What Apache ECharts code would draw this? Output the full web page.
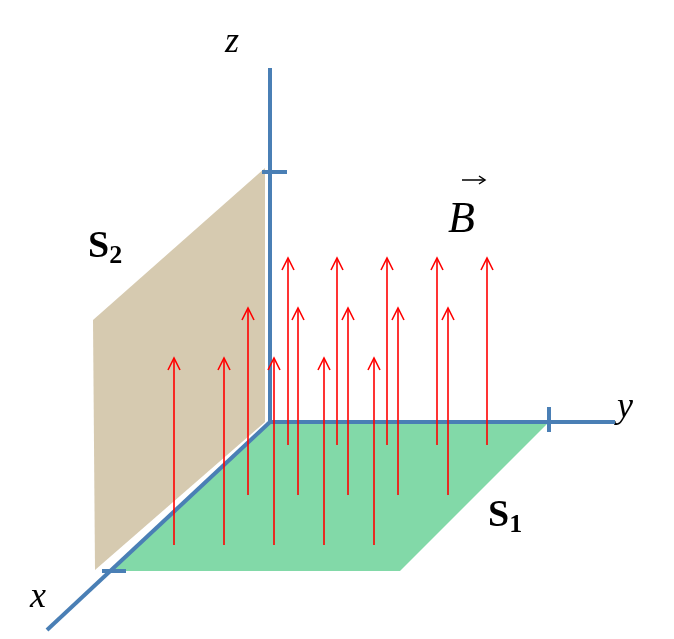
<!DOCTYPE html>
<html><head><meta charset="utf-8">
<script src="https://cdn.jsdelivr.net/npm/echarts@6/dist/echarts.min.js"></script>
<style>html,body{margin:0;background:#fff}#c{width:674px;height:639px}</style>
</head><body><div id="c"></div>
<script>
// Projected diagram coordinates (pixel-like data space)
const greenPlane = [[270,422],[549,422],[400,571],[110,571]];
const beigePlane = [[93,320],[265,168],[265,422],[95,570]];
const axisSegs = [
  [[270,68],[270,422]],   // z
  [[270,422],[615,422]],  // y
  [[270,422],[47,630]],   // x
  [[262,172],[287,172]],  // z tick
  [[549,407],[549,432]],  // y tick
  [[102,571],[126,571]]   // x tick
];
const frontX = [174,224,274,324,374];
const midX = [248,298,348,398,448];
const backX = [288,337,387,437,487];
const rows = [[frontX,545,358],[midX,495,308],[backX,445,258]];
const arrows = [];
rows.forEach(r=>r[0].forEach(x=>arrows.push([x,r[1],r[2]])));

const chart = echarts.init(document.getElementById('c'));
chart.setOption({
  animation:false,
  grid:{left:0,right:0,top:0,bottom:0},
  xAxis:{type:'value',min:0,max:674,show:false},
  yAxis:{type:'value',min:0,max:639,inverse:true,show:false},
  series:[
    {type:'custom',data:[0],z:1,renderItem:(p,api)=>({type:'polygon',shape:{points:greenPlane.map(q=>api.coord(q))},style:{fill:'#82d9a8'}})},
    {type:'custom',data:[0],z:1,renderItem:(p,api)=>({type:'polygon',shape:{points:beigePlane.map(q=>api.coord(q))},style:{fill:'#d6cab0'}})},
    {type:'custom',data:axisSegs.map((s,i)=>i),z:3,renderItem:(p,api)=>{
      const s=axisSegs[p.dataIndex];
      return {type:'line',shape:{x1:api.coord(s[0])[0],y1:api.coord(s[0])[1],x2:api.coord(s[1])[0],y2:api.coord(s[1])[1]},style:{stroke:'#4a7fb5',lineWidth:4}};
    }},
    {type:'custom',data:arrows,z:4,renderItem:(p,api)=>{
      const a=arrows[p.dataIndex];
      const b=api.coord([a[0],a[1]]), t=api.coord([a[0],a[2]]);
      return {type:'group',children:[
        {type:'line',shape:{x1:b[0],y1:b[1],x2:t[0],y2:t[1]},style:{stroke:'#ff0000',lineWidth:1.6}},
        {type:'polyline',shape:{points:[[t[0]-6,t[1]+12],[t[0],t[1]],[t[0]+6,t[1]+12]]},style:{stroke:'#ff0000',lineWidth:1.6,fill:null}}
      ]};
    }}
  ],
  graphic:[
    {type:'text',left:225,top:25,style:{text:'z',font:'italic 36px "Liberation Serif"',fill:'#000'}},
    {type:'text',left:617,top:390,style:{text:'y',font:'italic 36px "Liberation Serif"',fill:'#000'}},
    {type:'text',left:30,top:580,style:{text:'x',font:'italic 36px "Liberation Serif"',fill:'#000'}},
    {type:'text',left:88,top:228,style:{rich:{a:{font:'bold 38px "Liberation Serif"'},b:{font:'bold 26px "Liberation Serif"',padding:[18,0,0,0]}},text:'{a|S}{b|2}',fill:'#000'}},
    {type:'text',left:488,top:497,style:{rich:{a:{font:'bold 38px "Liberation Serif"'},b:{font:'bold 26px "Liberation Serif"',padding:[18,0,0,0]}},text:'{a|S}{b|1}',fill:'#000'}},
    {type:'text',left:448,top:198,style:{text:'B',font:'italic 44px "Liberation Serif"',fill:'#000'}},
    {type:'polyline',shape:{points:[[462,180],[484,180]]},style:{stroke:'#000',lineWidth:1.5}},
    {type:'polyline',shape:{points:[[479,176],[485,180],[479,184]]},style:{stroke:'#000',lineWidth:1.5,fill:null}}
  ]
});
</script></body></html>
